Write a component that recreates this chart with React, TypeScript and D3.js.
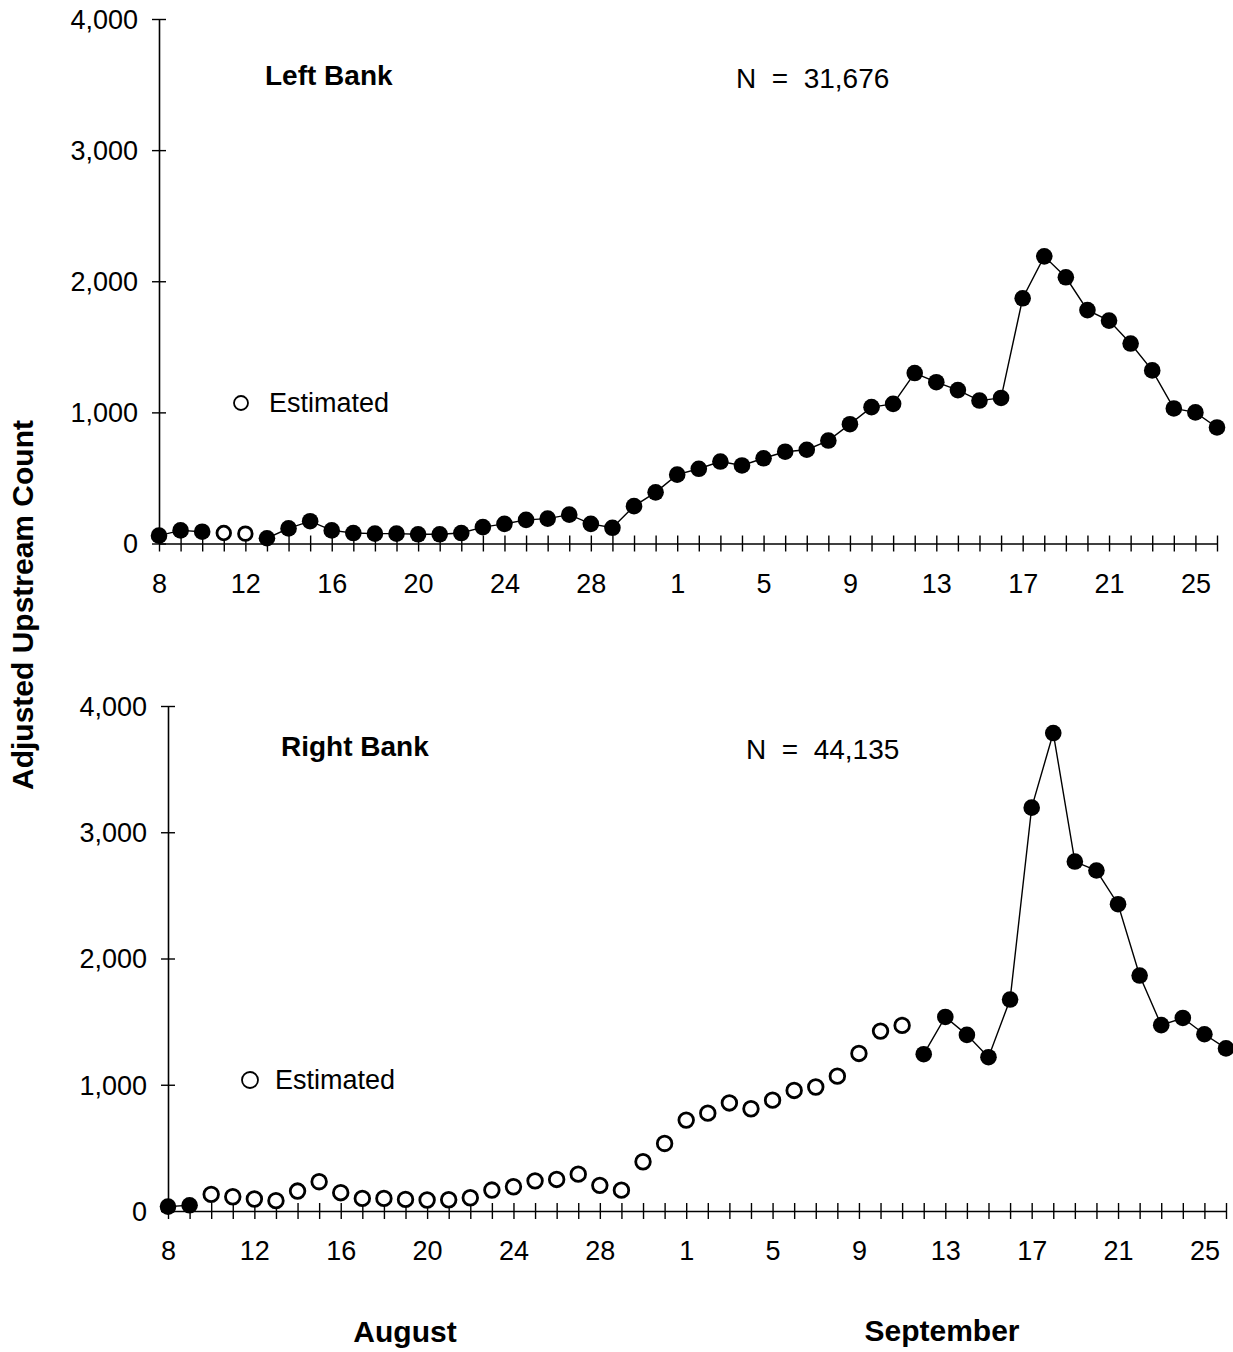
import React, { useRef, useEffect } from 'react';
import * as d3 from 'd3';

// days on the x axis, Aug 8 .. Sep 26
const augDays = [8, 9, 10, 11, 12, 13, 14, 15, 16, 17, 18, 19, 20, 21, 22, 23, 24, 25, 26, 27, 28, 29, 30, 31];
const sepDays = [1, 2, 3, 4, 5, 6, 7, 8, 9, 10, 11, 12, 13, 14, 15, 16, 17, 18, 19, 20, 21, 22, 23, 24, 25, 26];
const tickLabelEvery = 4;

const yTicks = [0, 1000, 2000, 3000, 4000];

// Left bank daily counts
const leftBank = [
  60, 100, 90, 80, 75, 40, 115, 170, 100, 80, 75, 75, 70, 70, 80, 125, 150, 180, 190, 220, 150, 120, 285, 390,
  525, 570, 625, 595, 650, 700, 715, 785, 910, 1040, 1065, 1300, 1230, 1170, 1090, 1110, 1870, 2190, 2030, 1780, 1700, 1525, 1320, 1030, 1000, 885,
];
const leftEstimated = ['Aug 11', 'Aug 12'];

// Right bank daily counts
const rightBank = [
  35, 45, 132, 113, 95, 82, 158, 232, 145, 100, 100, 92, 87, 89, 105, 166, 192, 239, 250, 292, 203, 165, 390, 535,
  720, 775, 856, 810, 878, 955, 982, 1068, 1248, 1425, 1470, 1242, 1537, 1395, 1218, 1675, 3195, 3786, 2768, 2697, 2430, 1865, 1472, 1529, 1400, 1288,
];
const rightEstimatedFrom = 'Aug 10';
const rightEstimatedTo = 'Sep 11';

const FONT = "'Liberation Sans', Arial, Helvetica, sans-serif";

function App() {
  const svgRef = useRef<SVGSVGElement>(null);

  useEffect(() => {
    const svg = d3.select(svgRef.current);
    svg.selectAll('*').remove();

    const dates = [...augDays.map(d => `Aug ${d}`), ...sepDays.map(d => `Sep ${d}`)];
    const dayNum = [...augDays, ...sepDays];
    const fromI = dates.indexOf(rightEstimatedFrom);
    const toI = dates.indexOf(rightEstimatedTo);

    const panels = [
      {
        values: leftBank,
        est: dates.map(d => leftEstimated.includes(d)),
        left: 159, right: 1217, top: 19, base: 543.5,
        title: 'Left Bank', titleX: 265, titleY: 75,
        n: 'N  =  31,676', nX: 736, nY: 78,
        legX: 241, legY: 403, legR: 7, legTextX: 269,
        estR: 6.8,
      },
      {
        values: rightBank,
        est: dates.map((_, i) => i >= fromI && i <= toI),
        left: 168, right: 1226, top: 706, base: 1211,
        title: 'Right Bank', titleX: 281, titleY: 746,
        n: 'N  =  44,135', nX: 746, nY: 749,
        legX: 250, legY: 1080, legR: 8, legTextX: 275,
        estR: 7.3,
      },
    ];

    panels.forEach(p => {
      const x = d3.scaleLinear().domain([0, dates.length - 1]).range([p.left, p.right]);
      const y = d3.scaleLinear().domain([0, 4000]).range([p.base, p.top]);
      const g = svg.append('g');
      const pts = p.values.map((v, i) => ({ i, v, est: p.est[i] }));

      // y axis
      const ya = g.append('g')
        .attr('transform', `translate(${p.left},0)`)
        .call(d3.axisLeft(y).tickValues(yTicks).tickFormat(d3.format(',')).tickSizeOuter(0));
      ya.select('.domain').attr('stroke', '#000').attr('stroke-width', 1.6);
      ya.selectAll('.tick line').attr('x1', -7).attr('x2', 7).attr('stroke-width', 1.4);
      ya.selectAll('.tick text')
        .attr('x', -21).attr('dy', '0.35em')
        .attr('font-size', 27).attr('font-family', FONT).attr('fill', '#000');

      // x axis with a tick for every day
      const xa = g.append('g')
        .attr('transform', `translate(0,${p.base})`)
        .call(d3.axisBottom(x).tickValues(d3.range(dates.length))
          .tickFormat(i => (+i % tickLabelEvery === 0 ? String(dayNum[+i]) : ''))
          .tickSizeOuter(0));
      xa.select('.domain').attr('stroke', '#000').attr('stroke-width', 1.3);
      xa.selectAll('.tick line').attr('y1', -8).attr('y2', 8).attr('stroke-width', 1.4);
      xa.selectAll('.tick text')
        .attr('y', 40).attr('dy', '0.35em')
        .attr('font-size', 27).attr('font-family', FONT).attr('fill', '#000');

      // line only through the counted (non-estimated) days
      const line = d3.line<{ i: number; v: number; est: boolean }>()
        .defined(d => !d.est)
        .x(d => x(d.i))
        .y(d => y(d.v));
      g.append('path')
        .datum(pts)
        .attr('d', line)
        .attr('fill', 'none')
        .attr('stroke', '#000')
        .attr('stroke-width', 1.4);

      g.selectAll('.pt')
        .data(pts)
        .join('circle')
        .attr('class', 'pt')
        .attr('cx', d => x(d.i))
        .attr('cy', d => y(d.v))
        .attr('r', d => (d.est ? p.estR : 8.3))
        .attr('fill', d => (d.est ? '#fff' : '#000'))
        .attr('stroke', '#000')
        .attr('stroke-width', d => (d.est ? 2.8 : 0));

      g.append('text')
        .attr('x', p.titleX).attr('y', p.titleY).attr('dy', '0.35em')
        .attr('font-size', 28).attr('font-weight', 'bold').attr('font-family', FONT)
        .text(p.title);

      g.append('text')
        .attr('x', p.nX).attr('y', p.nY).attr('dy', '0.35em')
        .attr('font-size', 28).attr('font-family', FONT)
        .style('white-space', 'pre')
        .text(p.n);

      // legend
      g.append('circle')
        .attr('cx', p.legX).attr('cy', p.legY).attr('r', p.legR)
        .attr('fill', '#fff').attr('stroke', '#000').attr('stroke-width', 1.8);
      g.append('text')
        .attr('x', p.legTextX).attr('y', p.legY).attr('dy', '0.35em')
        .attr('font-size', 27).attr('font-family', FONT)
        .text('Estimated');
    });

    svg.append('text')
      .attr('transform', 'translate(22,605) rotate(-90)')
      .attr('text-anchor', 'middle').attr('dy', '0.35em')
      .attr('font-size', 30).attr('font-weight', 'bold').attr('font-family', FONT)
      .text('Adjusted Upstream Count');

    svg.append('text')
      .attr('x', 405).attr('y', 1331).attr('dy', '0.35em').attr('text-anchor', 'middle')
      .attr('font-size', 30).attr('font-weight', 'bold').attr('font-family', FONT)
      .text('August');

    svg.append('text')
      .attr('x', 942).attr('y', 1330).attr('dy', '0.35em').attr('text-anchor', 'middle')
      .attr('font-size', 30).attr('font-weight', 'bold').attr('font-family', FONT)
      .text('September');
  }, []);

  return (
    <svg
      ref={svgRef}
      width={1233}
      height={1352}
      style={{ position: 'absolute', left: 0, top: 0, background: '#fff' }}
    />
  );
}

export default App;
